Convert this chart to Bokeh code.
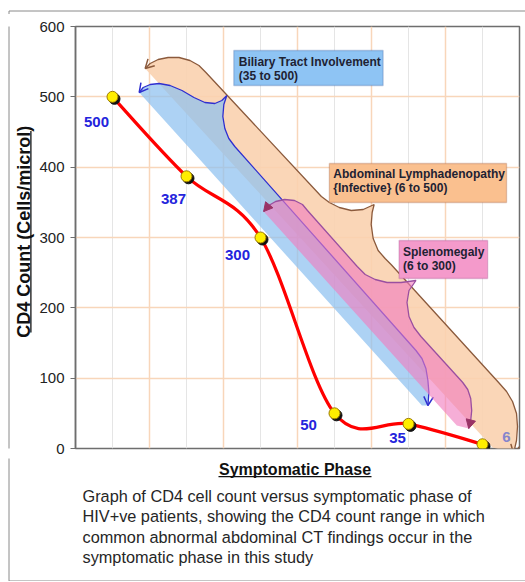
import numpy as np
from bokeh.plotting import figure
from bokeh.layouts import column, row
from bokeh.models import ColumnDataSource, Label, BoxAnnotation, FixedTicker, Range1d, Grid
from bokeh.transform import dodge
from bokeh.core.properties import value
from bokeh.embed import file_html
from bokeh.resources import INLINE

# ---------------- data ----------------
stage = [1, 2, 3, 4, 5, 6]                 # symptomatic phase categories
cd4 = [500, 387, 300, 50, 35, 6]           # CD4 count (cells/microl)
cd4_labels = ["500", "387", "300", "50", "35", "6"]
y_ticks = [0, 100, 200, 300, 400, 500, 600]
finding_names = ["Biliary Tract Involvement", "Abdominal Lymphadenopathy", "Splenomegaly"]
finding_notes = ["", "{Infective} ", ""]
finding_low = [35, 6, 6]
finding_high = [500, 500, 300]
x_title = "Symptomatic Phase"
y_title = "CD4 Count (Cells/microl)"
caption_lines = [
    "Graph of CD4 cell count versus symptomatic phase of",
    "HIV+ve patients, showing the CD4 count range in which",
    "common abnormal abdominal CT findings occur in the",
    "symptomatic phase in this study",
]

# ---------------- layout (page pixels) ----------------
W, H = 525, 581
TOP_H = 14            # strip above the chart
LEFT_W = 36           # strip left of the chart (y title)
FL, FT, FW, FH = 73, 26, 446, 422   # frame left/top/width/height on the page
P_W = W - LEFT_W
P_H = (FT - TOP_H) + FH + 10
CAP_H = H - TOP_H - P_H
X0, X1, Y0, Y1 = 0.5, 6.5, 0, 600
FONT = value("Liberation Sans")
BORDER = "#8a8a8a"
BL = 5   # Label baseline correction (px)


def dx(px):
    return X0 + (np.asarray(px, float) - FL) * (X1 - X0) / FW


def dy(py):
    return Y0 + ((FT + FH) - np.asarray(py, float)) * (Y1 - Y0) / FH


p = figure(width=P_W, height=P_H, x_range=Range1d(X0, X1), y_range=Range1d(Y0, Y1),
           output_backend="svg", toolbar_location=None, x_axis_location=None,
           min_border_left=FL - LEFT_W, min_border_right=P_W - (FL - LEFT_W) - FW,
           min_border_top=FT - TOP_H, min_border_bottom=P_H - FH - (FT - TOP_H))
p.background_fill_color = "white"
p.border_fill_color = "white"
p.outline_line_color = "#6e6e6e"
p.outline_line_width = 1.5

p.yaxis.ticker = FixedTicker(ticks=y_ticks)
p.yaxis.major_tick_out = 5
p.yaxis.major_tick_in = 0
p.yaxis.minor_tick_line_color = None
p.yaxis.major_tick_line_color = "#6e6e6e"
p.yaxis.axis_line_color = "#6e6e6e"
p.yaxis.axis_line_width = 1.5
p.yaxis.major_label_text_font = "Liberation Sans"
p.yaxis.major_label_text_font_size = "15px"
p.yaxis.major_label_text_color = "#222222"
p.yaxis.major_label_standoff = 6
p.ygrid.grid_line_color = "#F8D6BA"
p.ygrid.grid_line_width = 1.5
p.add_layout(Grid(dimension=0, ticker=FixedTicker(ticks=[s + 0.5 for s in stage[:-1]]),
                  grid_line_color="#F8D6BA", grid_line_width=1.5))

# ---------------- finding bands (brace-shaped arrows, sketched in page pixels) ----------------
band_outline = {
    "lymph": [(143, 68), (148, 63), (156, 59), (166, 57), (177, 57), (188, 60), (197, 65), (204, 72),
              (320, 196), (328, 202), (338, 207), (350, 210), (362, 209), (373, 204),
              (371, 212), (370, 224), (372, 238), (377, 250), (384, 258), (390, 264),
              (498, 382), (506, 391), (512, 401), (516, 413), (517, 426), (516, 440), (513, 453)],
    "biliary": [(137, 92), (141, 87), (148, 84), (157, 83), (168, 85), (180, 90), (192, 97), (203, 102),
                (213, 103), (220, 100), (225, 95), (222, 104), (221, 116), (223, 128), (227, 138),
                (233, 146), (415, 350), (421, 358), (425, 368), (427, 380), (428, 392), (427, 405)],
    "spleen": [(262, 211), (267, 205), (274, 201), (283, 199), (293, 200), (301, 204), (306, 210),
               (356, 266), (364, 274), (374, 279), (386, 282), (400, 282), (415, 280),
               (408, 290), (406, 302), (408, 316), (413, 327), (420, 336),
               (462, 382), (467, 389), (470, 398), (471, 410), (470, 420), (468, 428)],
}
band_close = {"lymph": (492, 447), "biliary": (421, 405), "spleen": (456, 425)}
band_style = {
    "lymph": dict(fill="#FAD2AF", alpha=0.9, line="#8B5A3C", head="open"),
    "biliary": dict(fill="#8EC0F0", alpha=0.72, line="#2F2FD0", head="open"),
    "spleen": dict(fill="#F07DBE", alpha=0.62, line="#9A4FA0", head="filled", head_color="#993366"),
}


def head_pts(tip, prev, length=10.0, half=0.5):
    tip = np.array(tip, float)
    u = tip - np.array(prev, float)
    u = u / np.hypot(*u)
    arms = []
    for a in (half, -half):
        c, s = np.cos(a), np.sin(a)
        r = np.array([u[0] * c - u[1] * s, u[0] * s + u[1] * c])
        arms.append(tip - length * r)
    return [arms[0], tip, arms[1]]


for key in ["lymph", "biliary", "spleen"]:
    pts = band_outline[key]
    st = band_style[key]
    poly = pts + [band_close[key]]
    p.patch(dx([q[0] for q in poly]), dy([q[1] for q in poly]),
            fill_color=st["fill"], fill_alpha=st["alpha"], line_color=None)
    p.line(dx([q[0] for q in pts]), dy([q[1] for q in pts]), line_color=st["line"], line_width=1.3)
    for tip, prev in [(pts[0], pts[1]), (pts[-1], pts[-2])]:
        hp = head_pts(tip, prev)
        hx = dx([q[0] for q in hp])
        hy = dy([q[1] for q in hp])
        if st["head"] == "open":
            p.line(hx, hy, line_color=st["line"], line_width=1.5)
        else:
            p.patch(hx, hy, fill_color=st["head_color"], line_color=st["head_color"])

# ---------------- CD4 curve (smoothed) ----------------
xs = np.array(stage, float)
ys = np.array(cd4, float)
xp = np.concatenate([[xs[0]], xs, [xs[-1]]])
yp = np.concatenate([[ys[0]], ys, [ys[-1]]])
seg = dict(x0=[], y0=[], x1=[], y1=[], cx0=[], cy0=[], cx1=[], cy1=[])
for i in range(len(xs) - 1):
    seg["x0"].append(xs[i]); seg["y0"].append(ys[i])
    seg["x1"].append(xs[i + 1]); seg["y1"].append(ys[i + 1])
    seg["cx0"].append(xs[i] + (xp[i + 2] - xp[i]) / 6)
    seg["cy0"].append(ys[i] + (yp[i + 2] - yp[i]) / 6)
    seg["cx1"].append(xs[i + 1] - (xp[i + 3] - xp[i + 1]) / 6)
    seg["cy1"].append(ys[i + 1] - (yp[i + 3] - yp[i + 1]) / 6)
p.bezier(x0="x0", y0="y0", x1="x1", y1="y1", cx0="cx0", cy0="cy0", cx1="cx1", cy1="cy1",
         source=ColumnDataSource(seg), line_color="#FF0000", line_width=3.2)

pts_src = ColumnDataSource(dict(
    x=stage, y=cd4, label=cd4_labels,
    xo=[-16, -13, -23, -26, -11, 24],
    yo=[25, 23, 17, 12, 14, -7],
    color=["#2424DC"] * 5 + ["#8585CC"],
))
sx = 2 * (X1 - X0) / FW
sy = 2 * (Y1 - Y0) / FH
p.scatter(x=dodge("x", sx), y=dodge("y", -sy), source=pts_src, size=11,
          fill_color="#111111", line_color="#111111")
p.scatter(x="x", y="y", source=pts_src, size=11, fill_color="#FFEE00", line_color="#9C7A00", line_width=1)
p.text(x="x", y="y", text="label", source=pts_src, x_offset="xo", y_offset="yo",
       text_color="color", text_font=FONT, text_font_style="bold", text_font_size="15px",
       text_align="center", text_baseline="middle")

# ---------------- callout boxes ----------------
box_geom = [  # left, top, right, bottom (page px), text left, first baseline
    (232, 50, 382, 85, 237, 66),
    (328, 163, 506, 202, 332, 178),
    (398, 240, 487, 278, 402, 256),
]
box_colors = [("#8EC4F4", "#3F5FA0"), ("#FAC08F", "#9C5A3C"), ("#F49ACB", "#9E4A8A")]
for i, name in enumerate(finding_names):
    l, t, r, b, tx, tb = box_geom[i]
    fc, lc = box_colors[i]
    p.add_layout(BoxAnnotation(left=float(dx(l)), right=float(dx(r)), top=float(dy(t)), bottom=float(dy(b)),
                               fill_color=fc, fill_alpha=1, line_color=lc, line_width=1.3))
    line2 = ("" if not finding_notes[i] else " ") + finding_notes[i] + f"({finding_low[i]} to {finding_high[i]})"
    for j, txt in enumerate([name, line2]):
        p.add_layout(Label(x=float(dx(tx)), y=float(dy(tb + 14 * j - BL)), text=txt, text_font="Liberation Sans",
                           text_font_style="bold", text_font_size="12px", text_color="#1e2233",
                           text_align="left", text_baseline="alphabetic"))


# ---------------- decoration strips (titles, caption, chart-area border) ----------------
def deco_fig(w, h, left, top):
    f = figure(width=w, height=h, x_range=Range1d(left, left + w), y_range=Range1d(top + h, top),
               output_backend="svg", toolbar_location=None, min_border=0,
               x_axis_location=None, y_axis_location=None)
    f.grid.visible = False
    f.outline_line_color = None
    f.background_fill_color = "white"
    f.border_fill_color = "white"
    return f


top_f = deco_fig(W, TOP_H, 0, 0)
top_f.segment(x0=[8.5, 8.5], y0=[10.5, 10.5], x1=[W + 5, 8.5], y1=[10.5, TOP_H + 1],
              line_color=BORDER, line_width=1)

left_f = deco_fig(LEFT_W, P_H, 0, TOP_H)
left_f.segment(x0=[8.5], y0=[TOP_H - 1], x1=[8.5], y1=[TOP_H + P_H + 1], line_color=BORDER, line_width=1)
left_f.add_layout(Label(x=28 - BL, y=230, text=y_title, angle=np.pi / 2, text_font="Liberation Sans",
                        text_font_style="bold", text_font_size="18px", text_color="#111111",
                        text_align="center", text_baseline="alphabetic"))
left_f.segment(x0=[30.4], y0=[124], x1=[30.4], y1=[336], line_color="#111111", line_width=1.3)

cap_f = deco_fig(W, CAP_H, 0, TOP_H + P_H)
cap_f.segment(x0=[8.5, 8.5], y0=[TOP_H + P_H - 1, 580.5], x1=[8.5, W + 5], y1=[580.5, 580.5],
              line_color=BORDER, line_width=1)
cap_f.add_layout(Label(x=294.5, y=474 - BL, text=x_title, text_font="Liberation Sans",
                       text_font_style="bold", text_font_size="16px", text_color="#111111",
                       text_align="center", text_baseline="alphabetic"))
cap_f.segment(x0=[218], y0=[476.2], x1=[371], y1=[476.2], line_color="#111111", line_width=1.3)
for k, line in enumerate(caption_lines):
    cap_f.add_layout(Label(x=82, y=500 + 20.5 * k - BL, text=line, text_font="Liberation Sans",
                           text_font_size="16.3px", text_color="#262626",
                           text_align="left", text_baseline="alphabetic"))

layout = column(top_f, row(left_f, p), cap_f)
open("out.html", "w").write(file_html(layout, INLINE))
